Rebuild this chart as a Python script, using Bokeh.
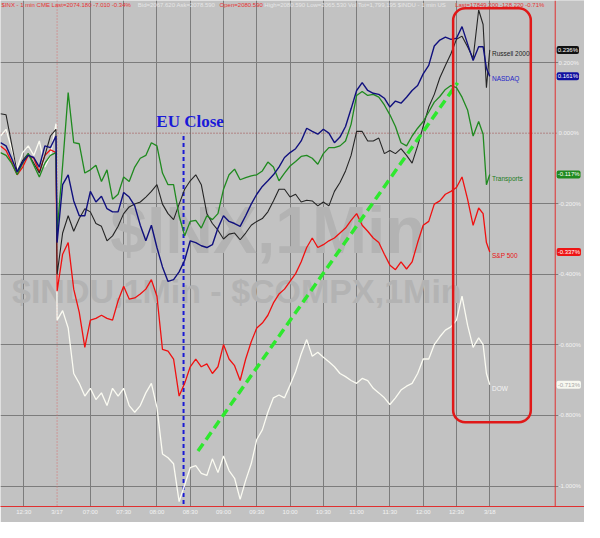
from bokeh.plotting import figure
from bokeh.models import (FixedTicker, PrintfTickFormatter, Span, Label, BoxAnnotation,
                          ColumnDataSource, Range1d)
from bokeh.embed import file_html
from bokeh.resources import INLINE

# ---- time axis: minutes relative to the 3/17 open (prior session tail is negative) ----
minutes = [-51, -46, -41, -36, -31, -26, -21, -16, -11, -6, -1,
           0, 5, 10, 15, 20, 25, 30, 35, 40, 45, 50, 55, 60, 65, 70, 75,
           80, 85, 90, 95, 100, 105, 110, 115, 120, 125, 130, 135, 140, 145, 150, 155,
           160, 165, 170, 175, 180, 185, 190, 195, 200, 205, 210, 215, 220, 225, 230, 235,
           240, 245, 250, 255, 260, 265, 270, 275, 280, 285, 290, 295, 300, 305, 310, 315,
           320, 325, 330, 335, 340, 345, 350, 355, 360, 365, 370, 375,
           380, 384, 387, 390]

# ---- percent change series ----
transports = [-0.055, -0.063, -0.085, -0.118, -0.085, -0.058, -0.091, -0.124, -0.085, -0.063, -0.055,
              -0.283, -0.091, 0.115, -0.027, -0.030, -0.113, -0.104, -0.091, -0.137, -0.104, -0.187, -0.173, -0.124, -0.137, -0.096, -0.071,
              -0.063, -0.027, -0.036, -0.113, -0.146, -0.146, -0.234, -0.291, -0.250, -0.247, -0.269, -0.234, -0.245, -0.228, -0.159, -0.118,
              -0.102, -0.132, -0.126, -0.121, -0.118, -0.107, -0.082, -0.096, -0.135, -0.113, -0.093, -0.080, -0.066, -0.063, -0.071, -0.088,
              -0.058, -0.041, -0.041, -0.036, -0.022, 0.025, 0.107, 0.118, 0.107, 0.110, 0.102, 0.080, 0.052, 0.019, -0.027, -0.036,
              -0.008, 0.014, 0.033, 0.060, 0.088, 0.104, 0.124, 0.135, 0.129, 0.102, 0.066, -0.008,
              0.033, -0.003, -0.146, -0.117]

russell = [0.055, 0.052, -0.030, -0.110, -0.077, -0.058, -0.085, -0.113, -0.063, -0.008, 0.011,
           -0.401, -0.283, -0.234, -0.278, -0.242, -0.214, -0.223, -0.256, -0.264, -0.305, -0.291, -0.264, -0.228, -0.209, -0.201, -0.195,
           -0.181, -0.165, -0.146, -0.201, -0.228, -0.245, -0.201, -0.159, -0.135, -0.118, -0.146, -0.228, -0.256, -0.275, -0.300, -0.286,
           -0.283, -0.302, -0.283, -0.261, -0.250, -0.242, -0.223, -0.192, -0.159, -0.159, -0.181, -0.173, -0.195, -0.190, -0.192, -0.206,
           -0.195, -0.206, -0.165, -0.140, -0.107, -0.063, 0.005, 0.005, -0.022, -0.022, -0.014, -0.058, -0.049, -0.058, -0.044, -0.063,
           -0.085, -0.036, 0.019, 0.074, 0.110, 0.157, 0.192, 0.225, 0.266, 0.275, 0.245, 0.212,
           0.349, 0.308, 0.129, 0.236]

nasdaq = [-0.027, -0.036, -0.071, -0.110, -0.082, -0.063, -0.069, -0.096, -0.036, -0.041, -0.008,
          -0.310, -0.146, -0.118, -0.192, -0.234, -0.234, -0.165, -0.195, -0.179, -0.214, -0.223, -0.223, -0.168, -0.181, -0.206, -0.261,
          -0.305, -0.261, -0.324, -0.379, -0.420, -0.415, -0.393, -0.360, -0.305, -0.310, -0.319, -0.324, -0.316, -0.269, -0.234, -0.250,
          -0.256, -0.264, -0.234, -0.201, -0.173, -0.151, -0.135, -0.118, -0.096, -0.069, -0.055, -0.044, -0.022, 0.014, 0.005, -0.003,
          0.011, 0.000, -0.027, -0.011, 0.019, 0.069, 0.121, 0.143, 0.121, 0.113, 0.110, 0.099, 0.074, 0.091, 0.085, 0.102,
          0.121, 0.135, 0.168, 0.192, 0.247, 0.264, 0.272, 0.266, 0.269, 0.302, 0.253, 0.206,
          0.245, 0.245, 0.184, 0.161]

sp500 = [-0.036, -0.049, -0.082, -0.118, -0.096, -0.063, -0.071, -0.110, -0.063, -0.047, -0.055,
         -0.448, -0.343, -0.310, -0.442, -0.508, -0.607, -0.530, -0.525, -0.516, -0.525, -0.530, -0.475, -0.434, -0.470, -0.467, -0.456,
         -0.442, -0.415, -0.462, -0.613, -0.618, -0.640, -0.745, -0.709, -0.662, -0.640, -0.662, -0.654, -0.681, -0.662, -0.599, -0.640,
         -0.659, -0.701, -0.640, -0.591, -0.552, -0.538, -0.516, -0.481, -0.456, -0.442, -0.420, -0.398, -0.365, -0.324, -0.297, -0.324,
         -0.316, -0.305, -0.297, -0.283, -0.269, -0.247, -0.228, -0.261, -0.278, -0.297, -0.310, -0.343, -0.374, -0.387, -0.365, -0.385,
         -0.365, -0.310, -0.261, -0.250, -0.201, -0.192, -0.173, -0.165, -0.154, -0.124, -0.187, -0.261,
         -0.212, -0.228, -0.310, -0.337]

dow = [-0.008, 0.011, -0.044, -0.099, -0.055, -0.036, -0.063, -0.022, -0.096, -0.063, 0.027,
       -0.530, -0.503, -0.552, -0.681, -0.709, -0.745, -0.723, -0.755, -0.736, -0.772, -0.723, -0.745, -0.723, -0.772, -0.791, -0.772,
       -0.736, -0.709, -0.777, -0.909, -0.920, -0.937, -1.044, -0.997, -0.948, -0.942, -0.964, -0.970, -0.923, -0.962, -0.915, -0.956,
       -0.978, -1.038, -0.984, -0.937, -0.868, -0.841, -0.791, -0.750, -0.742, -0.750, -0.714, -0.676, -0.626, -0.585, -0.632, -0.621,
       -0.635, -0.648, -0.662, -0.681, -0.690, -0.701, -0.709, -0.695, -0.701, -0.723, -0.736, -0.750, -0.769, -0.750, -0.728, -0.717,
       -0.709, -0.681, -0.640, -0.640, -0.599, -0.577, -0.558, -0.549, -0.530, -0.462, -0.544, -0.607,
       -0.580, -0.599, -0.681, -0.713]

series_names = ["Russell 2000", "NASDAQ", "Transports", "S&P 500", "DOW"]
last_values = [0.236, 0.161, -0.117, -0.337, -0.713]

# ---- axis ticks ----
x_ticks = [-30, 0, 30, 60, 90, 120, 150, 180, 210, 240, 270, 300, 330, 360, 390]
x_tick_labels = ["12:30", "3/17", "07:00", "07:30", "08:00", "08:30", "09:00", "09:30",
                 "10:00", "10:30", "11:00", "11:30", "12:00", "12:30", "3/18"]
y_ticks = [0.2, 0.0, -0.2, -0.4, -0.6, -0.8, -1.0]

# ---- annotations (data coordinates) ----
price_scale_edge = 449          # where the price scale starts (red vertical rule)
eu_close_minute = 114
trend_x = [127, 361]
trend_y = [-0.901, 0.143]
box_left, box_right, box_top, box_bottom = 357, 427, 0.354, -0.819

BG = "#c2c2c2"
GRID = "#7c7c7c"
RED_AXIS = "#e03030"

p = figure(width=584, height=522, x_range=Range1d(-51, 475.4), y_range=Range1d(-1.058, 0.376),
           y_axis_location="right", toolbar_location=None, output_backend="svg",
           min_border_left=0, min_border_top=0, min_border_bottom=16, min_border_right=0,
           background_fill_color=BG, border_fill_color=BG, outline_line_color=None)

# x axis
xa = p.xaxis[0]
xa.ticker = FixedTicker(ticks=x_ticks)
xa.major_label_overrides = {t: l for t, l in zip(x_ticks, x_tick_labels)}
xa.axis_line_color = RED_AXIS
xa.axis_line_width = 1
xa.major_tick_in = 0
xa.major_tick_out = 0
xa.minor_tick_in = 0
xa.minor_tick_out = 0
xa.minor_tick_line_color = None
xa.major_label_text_color = "#f2f2f2"
xa.major_label_text_font = "Liberation Sans"
xa.major_label_text_font_size = "6px"
xa.major_label_standoff = 2

# y axis: price scale labels sit just right of the red rule, inside the right strip
ya = p.yaxis[0]
ya.ticker = FixedTicker(ticks=y_ticks)
ya.formatter = PrintfTickFormatter(format="%.3f%%")
ya.axis_line_color = None
ya.major_tick_in = 0
ya.major_tick_out = 0
ya.minor_tick_in = 0
ya.minor_tick_out = 0
ya.major_tick_line_color = None
ya.minor_tick_line_color = None
ya.major_label_text_color = "#f2f2f2"
ya.major_label_text_font = "Liberation Sans"
ya.major_label_text_font_size = "6px"
ya.major_label_standoff = -26

# grids (zero lines drawn separately)
p.xgrid.ticker = FixedTicker(ticks=[t for t in x_ticks if t != 0])
p.xgrid.grid_line_color = GRID
p.ygrid.ticker = FixedTicker(ticks=[t for t in y_ticks if t != 0.0])
p.ygrid.grid_line_color = GRID
p.add_layout(Span(location=0, dimension="width", line_color="#a04848", line_dash="1 2", line_width=1,
                  level="underlay"))
p.add_layout(Span(location=0, dimension="height", line_color="#d87070", line_dash="1 2", line_width=1,
                  level="underlay"))
# price-scale strip: hide grid under the labels
p.add_layout(BoxAnnotation(left=451.8, right=476, fill_color=BG, fill_alpha=1, line_alpha=0,
                           level="underlay"))
p.add_layout(Span(location=price_scale_edge, dimension="height", line_color=RED_AXIS, line_width=1))

# watermarks
p.add_layout(Label(x=190, y=-0.275, text="$INX,1Min", text_align="center", text_baseline="middle",
                   text_font="Liberation Sans", text_font_style="bold", text_font_size="66px",
                   text_color="#b3b3b3", level="underlay"))
p.add_layout(Label(x=162, y=-0.448, text="$INDU,1Min - $COMPX,1Min", text_align="center",
                   text_baseline="middle", text_font="Liberation Sans", text_font_style="bold",
                   text_font_size="34px", text_color="#b3b3b3", level="underlay"))

# header
header_parts = [(-50, "$INX - 1 min  CME  Last=2074.180  -7.010  -0.34%", "#e83232"),
                (72.8, "Bid=2067.620  Ask=2078.590", "#e6e6e6"),
                (146.5, "Open=2080.590", "#e83232"),
                (186.8, "High=2080.590  Low=2065.530  Vol Tot=1,799,195  $INDU - 1 min  US", "#e6e6e6"),
                (358.8, "Last=17849.200  -128.220  -0.71%", "#e83232")]
for hx, ht, hc in header_parts:
    p.add_layout(Label(x=hx, y=0.362, text=ht, text_baseline="middle", text_font="Liberation Sans",
                       text_font_size="6px", text_color=hc))

# EU close marker
p.segment(x0=[eu_close_minute], y0=[-0.008], x1=[eu_close_minute], y1=[-1.058],
          line_color="#1a1ad4", line_width=2, line_dash="4 3")
p.add_layout(Label(x=89.5, y=0.033, text="EU Close", text_baseline="middle",
                   text_font="Liberation Serif", text_font_style="bold", text_font_size="17px",
                   text_color="#1a1ad8"))

# series
src = ColumnDataSource(dict(t=minutes, russell=russell, nasdaq=nasdaq, transports=transports,
                            sp500=sp500, dow=dow))
p.line("t", "dow", source=src, line_color="#fbfbf2", line_width=1.3)
p.line("t", "sp500", source=src, line_color="#f01010", line_width=1.3)
p.line("t", "russell", source=src, line_color="#252525", line_width=1.1)
p.line("t", "transports", source=src, line_color="#1f8a1f", line_width=1.3)
p.line("t", "nasdaq", source=src, line_color="#10107e", line_width=1.4)

# trend line
p.line(trend_x, trend_y, line_color="#2ee82e", line_width=3.5, line_dash="9 5")

# highlight box
p.add_layout(BoxAnnotation(left=box_left, right=box_right, top=box_top, bottom=box_bottom,
                           fill_alpha=0, line_color="#e01818", line_alpha=1, line_width=2.5,
                           border_radius=12))

# series name labels
name_colors = ["#222222", "#2424c8", "#1c7c1c", "#e81414", "#f4f4f4"]
name_y = [0.225, 0.154, -0.129, -0.346, -0.723]
for nm, c, yy in zip(series_names, name_colors, name_y):
    p.add_layout(Label(x=392, y=yy, text=nm, text_baseline="middle", text_font="Liberation Sans",
                       text_font_size="6.5px", text_color=c))

# last value tags on the price scale
tag_bg = ["#111111", "#1010a0", "#1f8a1f", "#ee1414", "#f8f8f0"]
tag_fg = ["#ffffff", "#ffffff", "#ffffff", "#ffffff", "#a8a8a8"]
for v, bg, fg in zip(last_values, tag_bg, tag_fg):
    p.add_layout(Label(x=450.3, y=v, text="%.3f%%" % v, text_baseline="middle",
                       text_font="Liberation Sans", text_font_size="6px", text_color=fg,
                       background_fill_color=bg, padding=1, border_radius=2))

open("out.html", "w").write(file_html(p, INLINE))
